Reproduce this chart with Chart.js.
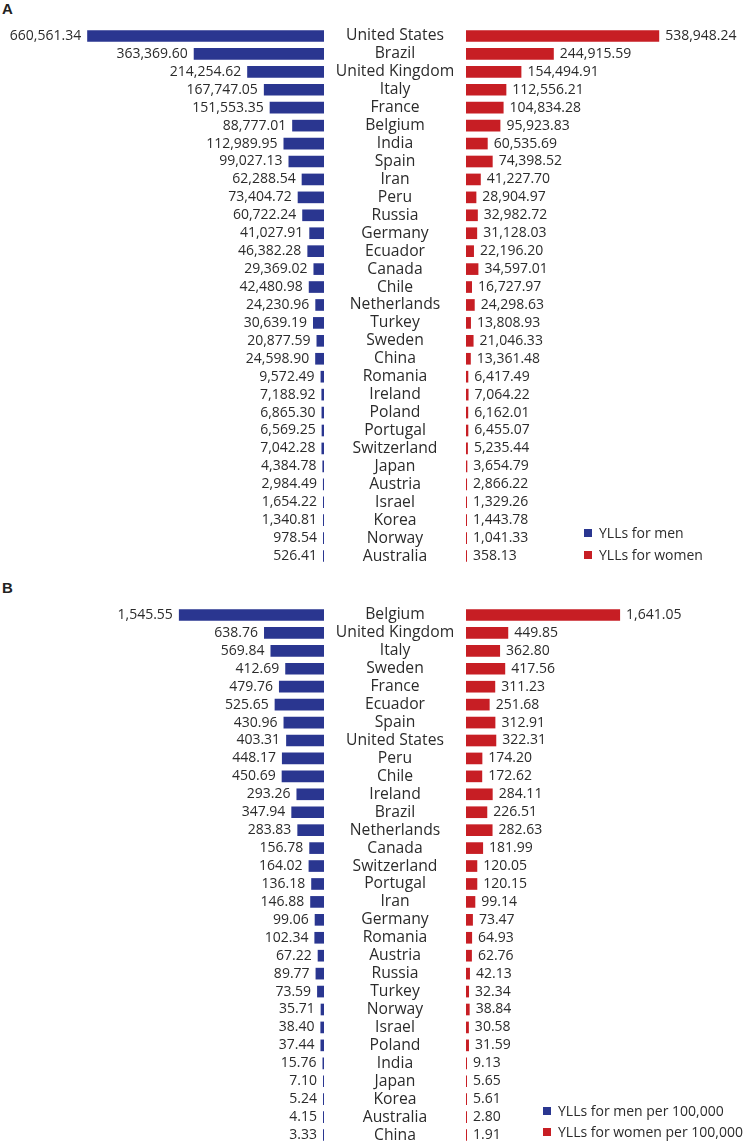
<!DOCTYPE html>
<html>
<head>
<meta charset="utf-8">
<script src="https://cdn.jsdelivr.net/npm/chart.js@4/dist/chart.umd.min.js"></script>
<style>
  html, body { margin: 0; padding: 0; background: #fff; width: 746px; height: 1143px; overflow: hidden; }
  body { position: relative; font-family: "Open Sans", sans-serif; color: #2b2b2b; }
  .panel-label { position: absolute; left: 2px; font: bold 15px "Liberation Sans", Arial, sans-serif; color: #222; }
  canvas { position: absolute; left: 0; }
  .legend { position: absolute; font-size: 14px; color: #2b2b2b; line-height: 1; }
  .legend .row { position: absolute; white-space: nowrap; display: flex; align-items: center; }
  .legend .sw { width: 8px; height: 8px; margin-right: 7px; display: inline-block; }
</style>
</head>
<body>
<div class="panel-label" style="top:0px;">A</div>
<div class="panel-label" style="top:579px;">B</div>
<canvas id="chartA" width="746" height="538" style="top:27px;"></canvas>
<canvas id="chartB" width="746" height="538" style="top:606px;"></canvas>
<div class="legend" id="legendA"></div>
<div class="legend" id="legendB"></div>
<script>
const countriesA = ["United States","Brazil","United Kingdom","Italy","France","Belgium","India","Spain","Iran","Peru","Russia","Germany","Ecuador","Canada","Chile","Netherlands","Turkey","Sweden","China","Romania","Ireland","Poland","Portugal","Switzerland","Japan","Austria","Israel","Korea","Norway","Australia"];
const menA = [660561.34,363369.60,214254.62,167747.05,151553.35,88777.01,112989.95,99027.13,62288.54,73404.72,60722.24,41027.91,46382.28,29369.02,42480.98,24230.96,30639.19,20877.59,24598.90,9572.49,7188.92,6865.30,6569.25,7042.28,4384.78,2984.49,1654.22,1340.81,978.54,526.41];
const womenA = [538948.24,244915.59,154494.91,112556.21,104834.28,95923.83,60535.69,74398.52,41227.70,28904.97,32982.72,31128.03,22196.20,34597.01,16727.97,24298.63,13808.93,21046.33,13361.48,6417.49,7064.22,6162.01,6455.07,5235.44,3654.79,2866.22,1329.26,1443.78,1041.33,358.13];

const countriesB = ["Belgium","United Kingdom","Italy","Sweden","France","Ecuador","Spain","United States","Peru","Chile","Ireland","Brazil","Netherlands","Canada","Switzerland","Portugal","Iran","Germany","Romania","Austria","Russia","Turkey","Norway","Israel","Poland","India","Japan","Korea","Australia","China"];
const menB = [1545.55,638.76,569.84,412.69,479.76,525.65,430.96,403.31,448.17,450.69,293.26,347.94,283.83,156.78,164.02,136.18,146.88,99.06,102.34,67.22,89.77,73.59,35.71,38.40,37.44,15.76,7.10,5.24,4.15,3.33];
const womenB = [1641.05,449.85,362.80,417.56,311.23,251.68,312.91,322.31,174.20,172.62,284.11,226.51,282.63,181.99,120.05,120.15,99.14,73.47,64.93,62.76,42.13,32.34,38.84,30.58,31.59,9.13,5.65,5.61,2.80,1.91];

const legendA = ["YLLs for men", "YLLs for women"];
const legendB = ["YLLs for men per 100,000", "YLLs for women per 100,000"];

const BLUE = "#2a3690";
const RED = "#c71e24";
const TEXT = "#2b2b2b";

const fmt = v => v.toLocaleString("en-US", {minimumFractionDigits: 2, maximumFractionDigits: 2});

const labelPlugin = {
  id: "butterflyLabels",
  afterDatasetsDraw(chart) {
    const ctx = chart.ctx;
    const y = chart.scales.y;
    const xm = chart.scales.xm;
    const xw = chart.scales.xw;
    const mid = (xm.getPixelForValue(0) + xw.getPixelForValue(0)) / 2;
    const metaM = chart.getDatasetMeta(0);
    const metaW = chart.getDatasetMeta(1);
    ctx.save();
    ctx.textBaseline = "middle";
    ctx.fillStyle = TEXT;
    chart.data.labels.forEach((lab, i) => {
      const py = y.getPixelForValue(i);
      ctx.font = '15.7px "Open Sans", sans-serif';
      ctx.textAlign = "center";
      ctx.fillText(lab, mid, py);
      ctx.font = '14px "Open Sans", sans-serif';
      const bm = metaM.data[i];
      ctx.textAlign = "right";
      ctx.fillText(fmt(chart.data.datasets[0].data[i]), bm.x - 6, py);
      const bw = metaW.data[i];
      ctx.textAlign = "left";
      ctx.fillText(fmt(chart.data.datasets[1].data[i]), bw.x + 6, py);
    });
    ctx.restore();
  }
};

function makeChart(id, labels, men, women, pxPerUnit) {
  const W = 746, menZero = 324, womenZero = 466;
  return new Chart(document.getElementById(id), {
    type: "bar",
    data: {
      labels: labels,
      datasets: [
        { data: men, backgroundColor: BLUE, xAxisID: "xm", grouped: false, barPercentage: 0.65, categoryPercentage: 1, minBarLength: 1 },
        { data: women, backgroundColor: RED, xAxisID: "xw", grouped: false, barPercentage: 0.65, categoryPercentage: 1, minBarLength: 1 }
      ]
    },
    options: {
      indexAxis: "y",
      responsive: false,
      animation: false,
      devicePixelRatio: 1,
      layout: { padding: 0 },
      scales: {
        y: { type: "category", offset: true, display: false },
        xm: { type: "linear", axis: "x", reverse: true, min: -(W - menZero) / pxPerUnit, max: menZero / pxPerUnit, display: false },
        xw: { type: "linear", axis: "x", min: -womenZero / pxPerUnit, max: (W - womenZero) / pxPerUnit, display: false }
      },
      plugins: { legend: { display: false }, tooltip: { enabled: false } }
    },
    plugins: [labelPlugin]
  });
}

makeChart("chartA", countriesA, menA, womenA, 3.585e-4);
makeChart("chartB", countriesB, menB, womenB, 0.0939);

function buildLegend(id, texts, left, tops) {
  const el = document.getElementById(id);
  [BLUE, RED].forEach((c, i) => {
    const row = document.createElement("div");
    row.className = "row";
    row.style.left = left + "px";
    row.style.top = tops[i] + "px";
    row.innerHTML = '<span class="sw" style="background:' + c + '"></span><span>' + texts[i] + '</span>';
    el.appendChild(row);
  });
}
buildLegend("legendA", legendA, 584, [526, 548]);
buildLegend("legendB", legendB, 543, [1104, 1125]);
</script>
</body>
</html>
